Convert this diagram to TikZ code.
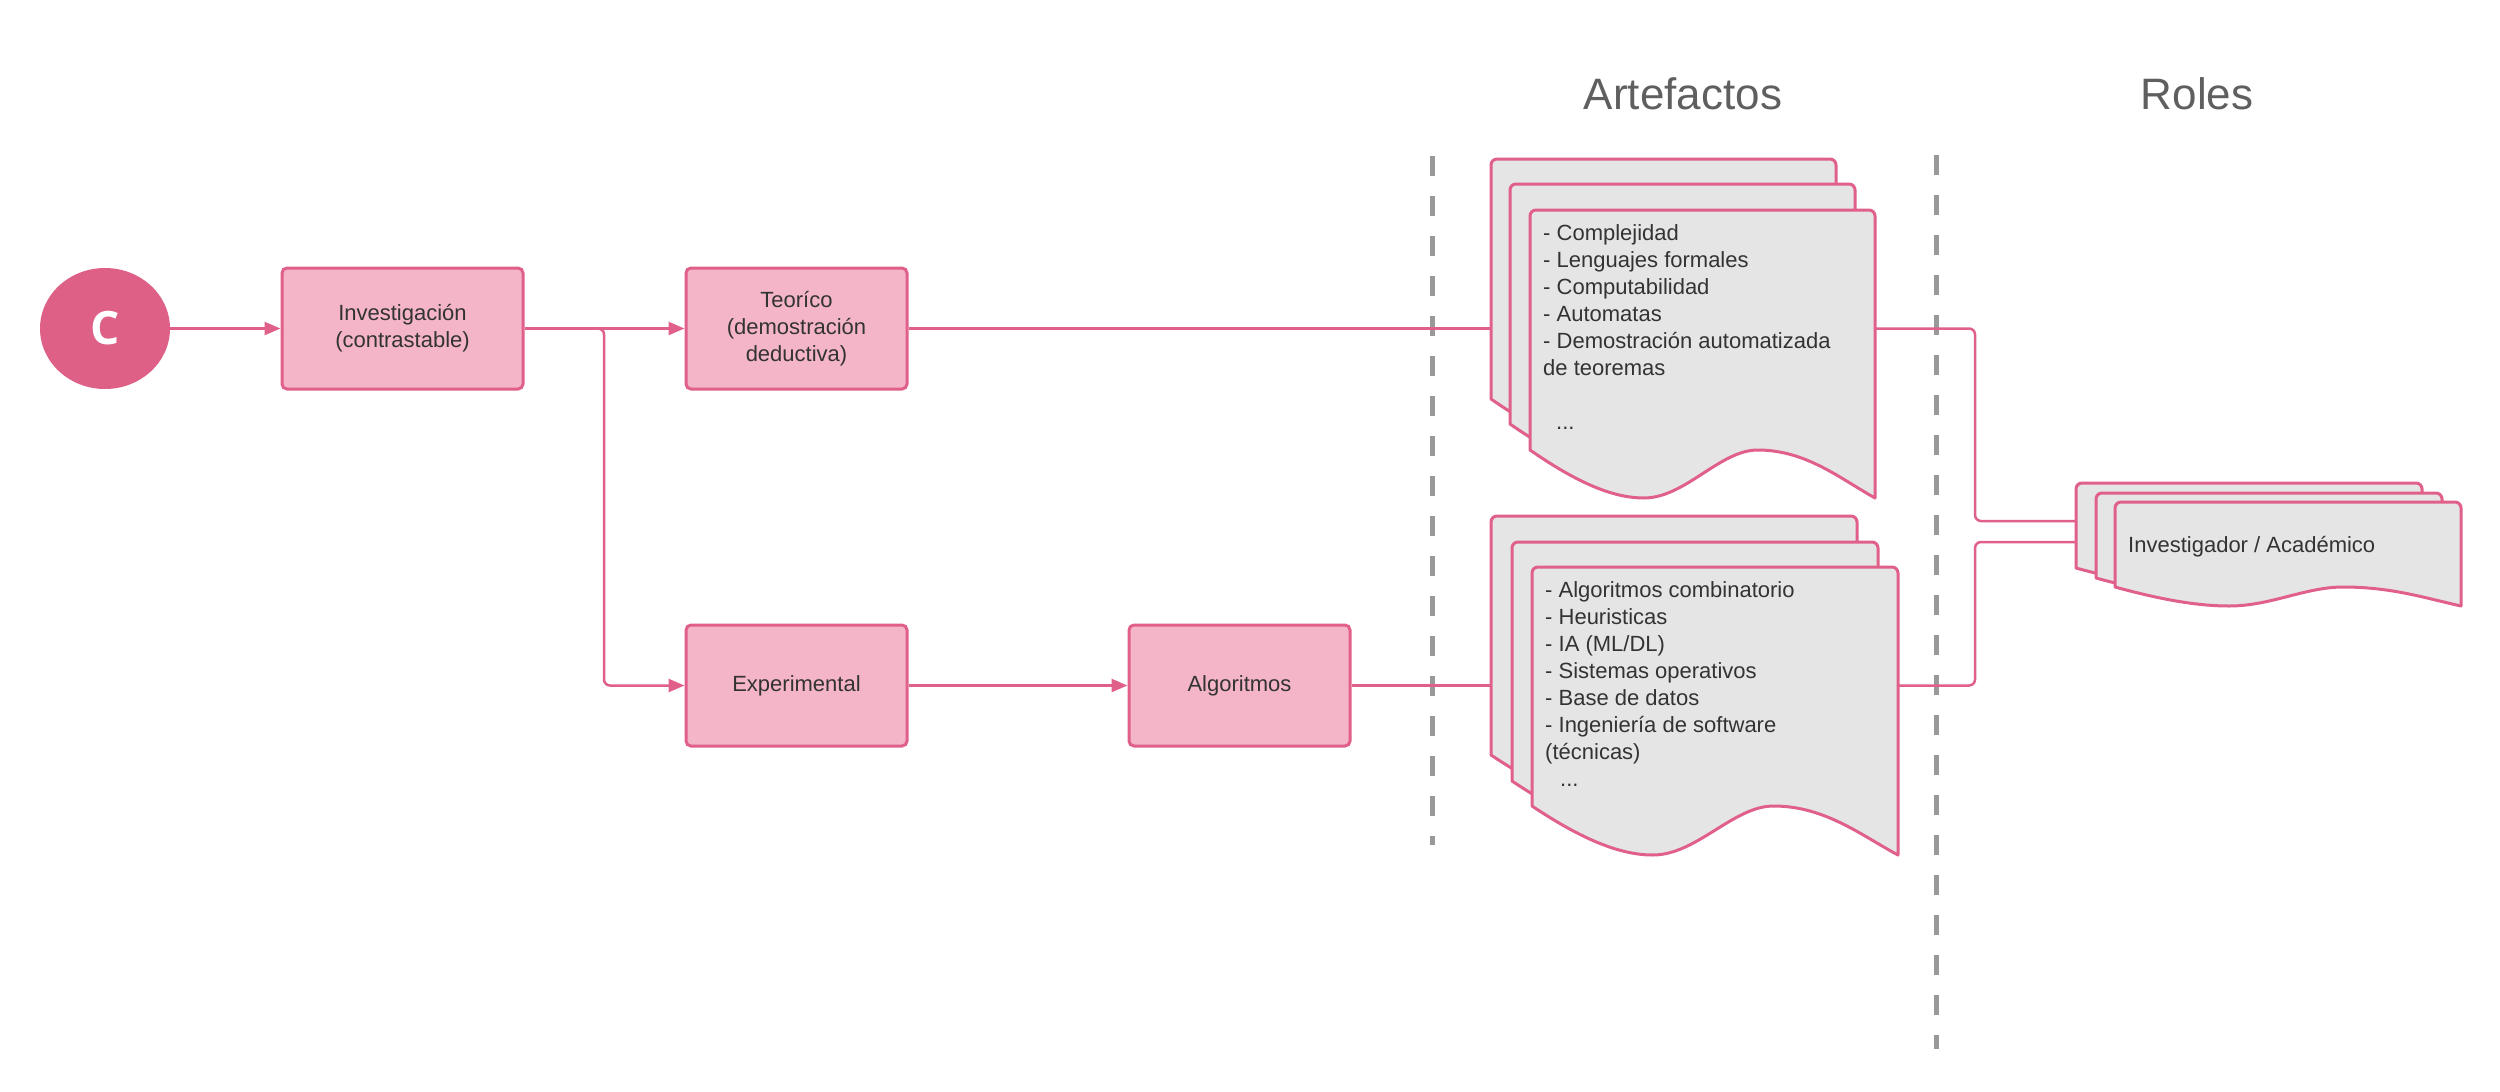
\documentclass[tikz,border=0pt]{standalone}
\usepackage{fontspec}
\setmainfont{Liberation Sans}
\newfontfamily\cfont{Open Sans}
\usetikzlibrary{arrows.meta,shapes.geometric}
\definecolor{pinkline}{HTML}{E0608A}
\definecolor{pinkfill}{HTML}{F4B5C8}
\definecolor{circfill}{HTML}{DE6087}
\definecolor{docfill}{HTML}{E5E5E5}
\definecolor{txt}{HTML}{333333}
\definecolor{ttl}{HTML}{5F5F5F}
\definecolor{dashgray}{HTML}{999999}
% x, y (top-left), width, left height, wave amplitude
\newcommand\docsheet[5]{%
  \draw[docsheet] ({#1},{#2+#4}) [rounded corners=6pt] -- ({#1},{#2}) -- ({#1+#3},{#2}) [sharp corners] -- ({#1+#3},{#2+#4+#5})
   .. controls ({#1+0.9*#3},{#2+#4+0.6*#5}) and ({#1+0.8*#3},{#2+#4}) .. ({#1+0.66*#3},{#2+#4})
   .. controls ({#1+0.55*#3},{#2+#4}) and ({#1+0.45*#3},{#2+#4+#5}) .. ({#1+0.33*#3},{#2+#4+#5})
   .. controls ({#1+0.25*#3},{#2+#4+#5}) and ({#1+0.15*#3},{#2+#4+0.75*#5}) .. cycle;}
\begin{document}
\begin{tikzpicture}[x=1pt,y=-1pt,
  procbox/.style={draw=pinkline, fill=pinkfill, line width=3pt, rounded corners=5pt, minimum height=121pt, align=center, text=txt, font=\fontsize{22}{27}\selectfont, inner sep=0pt},
  conn/.style={draw=pinkline, line width=2.5pt},
  arr/.style={conn, -{Triangle[length=16pt,width=13pt]}},
  docsheet/.style={draw=pinkline, fill=docfill, line width=3pt, line join=round},
  doctext/.style={anchor=north west, align=left, inner sep=0pt, text=txt, font=\fontsize{22}{27}\selectfont},
  title/.style={text=ttl, font=\fontsize{44}{50}\selectfont, anchor=base, inner sep=0pt},
  dashline/.style={draw=dashgray, line width=5pt, dash pattern=on 20pt off 20pt}]
\useasboundingbox (0,0) rectangle (2500,1092);

% separators
\draw[dashline] (1432,156) -- (1432,845);
\draw[dashline] (1936,155) -- (1936,1049);

% titles
\node[title] (art) at (1683,109) {Artefactos};
\node[title] (rol) at (2197,109) {Roles};

% process nodes
\node[ellipse, fill=circfill, minimum width=130pt, minimum height=121pt, inner sep=0pt, text=white, font=\cfont\bfseries\fontsize{46}{50}\selectfont] (c) at (105,328.5) {C};
\node[procbox, minimum width=241pt] (inv) at (402.5,328.5) {Investigación\\(contrastable)};
\node[procbox, minimum width=221pt] (teo) at (796.5,328.5) {Teoríco\\(demostración\\deductiva)};
\node[procbox, minimum width=221pt] (exp) at (796.5,685.5) {Experimental};
\node[procbox, minimum width=221pt] (alg) at (1239.5,685.5) {Algoritmos};

% connector coordinates
\coordinate (br) at (604,328.5);
\coordinate (d1in) at (1491,328.5);
\coordinate (d2in) at (1491,685.5);
\coordinate (d1out) at (1875,328.5);
\coordinate (d2out) at (1898,685.5);
\coordinate (jx) at (1975,0);
\coordinate (r1in) at (2076,521);
\coordinate (r2in) at (2076,542);

% connectors
\draw[arr] (c.east) -- (inv.west);
\draw[arr] (inv.east) -- (teo.west);
\draw[arr, rounded corners=6pt] ([xshift=-12pt]br) -- (br) |- (exp.west);
\draw[arr] (exp.east) -- (alg.west);
\draw[conn] (teo.east) -- (d1in);
\draw[conn] (alg.east) -- (d2in);
\draw[conn, rounded corners=6pt] (d1out) -- (d1out -| jx) |- (r1in);
\draw[conn, rounded corners=6pt] (d2out) -- (d2out -| jx) |- (r2in);

% artefact stack 1
\docsheet{1491}{159}{345}{240}{48}
\docsheet{1510}{184}{345}{240}{48}
\docsheet{1530}{210}{345}{240}{48}
\node[doctext] (t1) at (1543,224) {- Complejidad\\- Lenguajes formales\\- Computabilidad\\- Automatas\\- Demostración automatizada\\de teoremas\\[27pt]\hspace*{13pt}...};

% artefact stack 2
\docsheet{1491}{516}{366}{239}{49}
\docsheet{1512}{542}{366}{239}{49}
\docsheet{1532}{567}{366}{239}{49}
\node[doctext] (t2) at (1545,581) {- Algoritmos combinatorio\\- Heuristicas\\- IA (ML/DL)\\- Sistemas operativos\\- Base de datos\\- Ingeniería de software\\(técnicas)\\\hspace*{15pt}...};

% roles stack
\docsheet{2076}{483}{346}{85}{19}
\docsheet{2096}{493}{346}{85}{19}
\docsheet{2115}{502}{346}{85}{19}
\node[anchor=base west, inner sep=0pt, text=txt, font=\fontsize{22}{27}\selectfont] (rt) at (2128,552) {Investigador / Académico};
\end{tikzpicture}
\end{document}
